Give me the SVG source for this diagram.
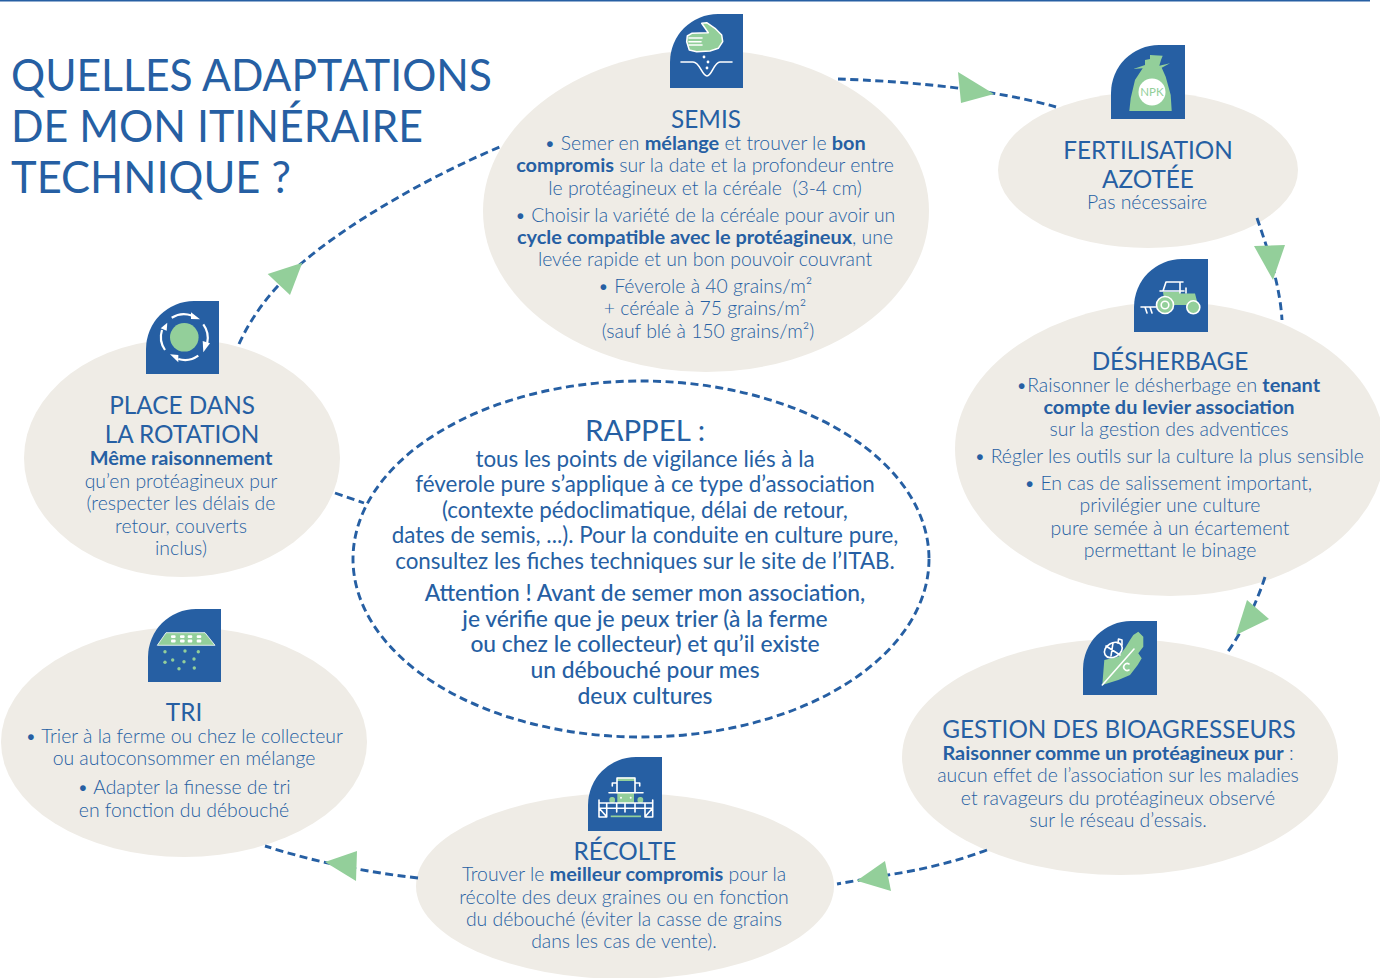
<svg xmlns="http://www.w3.org/2000/svg" width="1380" height="978" viewBox="0 0 1380 978">
<style>
.bg{fill:#efece6}
.tile{fill:#265fa3}
.g{fill:#93cf9a}
.w{fill:#fff}
.ws{fill:none;stroke:#fff;stroke-width:1.6;stroke-linecap:round;stroke-linejoin:round}
.dash{fill:none;stroke:#265fa3;stroke-width:2.9;stroke-dasharray:8 4.5}
.t{font-family:"Lato","Liberation Sans",sans-serif;text-anchor:middle;fill:#265fa3}
.tt{font-family:"Lato","Liberation Sans",sans-serif;fill:#265fa3;font-size:45px}
.b{font-size:19.4px;font-weight:300}
.h{font-size:24.3px;font-weight:400}
.s{font-weight:700;font-size:19.9px}
</style>
<rect width="1380" height="978" fill="#fff"/>
<rect x="0" y="0" width="1370" height="1.5" fill="#265fa3"/>
<g id="title">
<text class="tt" x="11" y="91" textLength="481" lengthAdjust="spacingAndGlyphs">QUELLES ADAPTATIONS</text>
<text class="tt" x="11" y="142" textLength="412" lengthAdjust="spacingAndGlyphs">DE MON ITINÉRAIRE</text>
<text class="tt" x="11" y="193" textLength="280" lengthAdjust="spacingAndGlyphs">TECHNIQUE ?</text>
</g>
<g id="semis">
<ellipse class="bg" cx="706" cy="211" rx="223" ry="161"/>
<path class="tile" d="M670 88V62A48 48 0 0 1 718 14H743V88Z"/>
<path class="g" d="M701.700 23.300L706.700 22.700L715 28.300L721.700 35L722.700 41.700L718.300 48.300L710 51L696.700 51.700L689.300 50L686.700 41.700L687.300 36L691.700 33.300L708.300 32.700Z" stroke="#fff" stroke-width="1.5" stroke-linejoin="round"/>
<path class="ws" d="M689 38H702M689 41.700H701M689 45H702"/>
<path class="ws" d="M681 62H693C700 62 702 76 707 76C712 76 714 62 720 62H732"/>
<circle class="w" cx="704" cy="57" r="1.4"/><circle class="w" cx="708" cy="62" r="1.4"/><circle class="w" cx="707" cy="68" r="1.4"/>
<text class="t h" x="706" y="128">SEMIS</text>
<text class="t b"><tspan x="705" y="150">• Semer en <tspan class="s">mélange</tspan> et trouver le <tspan class="s">bon</tspan></tspan><tspan x="705" y="172"><tspan class="s">compromis</tspan> sur la date et la profondeur entre</tspan><tspan x="705" y="195">le protéagineux et la céréale &#160;(3-4 cm)</tspan><tspan x="705" y="222">• Choisir la variété de la céréale pour avoir un</tspan><tspan x="705" y="244"><tspan class="s">cycle compatible avec le protéagineux</tspan>, une</tspan><tspan x="705" y="266">levée rapide et un bon pouvoir couvrant</tspan><tspan x="705" y="293">• Féverole à 40 grains/m²</tspan><tspan x="705" y="315">+ céréale à 75 grains/m²</tspan><tspan x="708" y="338">(sauf blé à 150 grains/m²)</tspan></text>
</g>
<g id="fertilisation">
<ellipse class="bg" cx="1148" cy="170" rx="150" ry="78"/>
<path class="tile" d="M1111 119V93A48 48 0 0 1 1159 45H1185V119Z"/>
<path class="g" d="M1150 55L1162.700 55.700L1161 60L1159.300 65.700L1170 63.300L1161.700 67.700L1165.700 76.700L1170.700 95L1171.700 111H1129.300L1130.700 98.300L1135 80L1142.700 68.300L1133.300 69L1145 65V60L1150 59Z"/>
<circle class="w" cx="1152" cy="92" r="13.500"/>
<text class="t" x="1152" y="96" font-size="11.500" style="fill:#93cf9a;font-weight:400">NPK</text>
<text class="t h" x="1148" y="158.500">FERTILISATION</text>
<text class="t h" x="1148" y="187.500">AZOTÉE</text>
<text class="t b" x="1147" y="209">Pas nécessaire</text>
</g>
<g id="desherbage">
<ellipse class="bg" cx="1170" cy="449" rx="215" ry="147"/>
<path class="tile" d="M1134 332V307A48 48 0 0 1 1182 259H1208V332Z"/>
<path class="g" d="M1163 292H1180V293.500H1195L1198 305H1172V306H1165Z"/>
<path class="ws" d="M1141 307H1156M1145 307L1147 313M1150 307L1152 313M1160 291H1184M1163 291L1166 282H1183M1180 282V293M1186 293V288"/>
<circle class="g" cx="1165" cy="305" r="8.500" stroke="#fff" stroke-width="1.600"/>
<circle class="g" cx="1165" cy="305" r="3.800" stroke="#fff" stroke-width="1.600"/>
<circle class="g" cx="1193.300" cy="307.300" r="6.500" stroke="#fff" stroke-width="1.600"/>
<text class="t h" x="1170" y="369.500">DÉSHERBAGE</text>
<text class="t b"><tspan x="1168" y="392">•Raisonner le désherbage en <tspan class="s">tenant</tspan></tspan><tspan x="1169" y="414"><tspan class="s">compte du levier association</tspan></tspan><tspan x="1169" y="436">sur la gestion des adventices</tspan><tspan x="1169" y="463">• Régler les outils sur la culture la plus sensible</tspan><tspan x="1168" y="490">• En cas de salissement important,</tspan><tspan x="1170" y="512">privilégier une culture</tspan><tspan x="1170" y="535">pure semée à un écartement</tspan><tspan x="1170" y="557">permettant le binage</tspan></text>
</g>
<g id="gestion">
<ellipse class="bg" cx="1120" cy="757" rx="218" ry="118"/>
<path class="tile" d="M1083 695V669A48 48 0 0 1 1131 621H1157V695Z"/>
<path class="g" d="M1138.300 631.700L1143.300 636.700V646.700L1138.300 653.300L1141.700 658.300L1137.700 665L1130 675L1118.300 680L1102.300 685L1104.300 660L1118.300 656.700L1125 648.300L1130 640L1133.300 635Z"/>
<path class="ws" d="M1102.300 685L1134 649"/>
<ellipse cx="1113.300" cy="650" rx="9.500" ry="7" fill="#265fa3" stroke="#fff" stroke-width="1.600" transform="rotate(-30 1113.300 650)"/>
<path class="ws" d="M1106 646L1120 655M1113 643L1111 656M1118 643L1118.500 639L1122 640L1122 645"/>
<path class="ws" d="M1129 664A3.500 3.500 0 1 0 1129 670"/>
<text class="t h" x="1119" y="737.500">GESTION DES BIOAGRESSEURS</text>
<text class="t b"><tspan x="1118" y="760"><tspan class="s">Raisonner comme un protéagineux pur</tspan> :</tspan><tspan x="1118" y="782">aucun effet de l’association sur les maladies</tspan><tspan x="1118" y="805">et ravageurs du protéagineux observé</tspan><tspan x="1118" y="827">sur le réseau d’essais.</tspan></text>
</g>
<g id="recolte">
<ellipse class="bg" cx="625" cy="886" rx="209" ry="93"/>
<path class="tile" d="M588 831V805A48 48 0 0 1 636 757H662V831Z"/>
<rect class="g" x="617" y="777.500" width="18" height="3.500"/>
<rect class="g" x="617.300" y="792.700" width="16.700" height="10.500"/>
<rect class="g" x="610.700" y="815.500" width="30.300" height="1.700"/>
<rect class="g" x="609.300" y="797" width="5.700" height="6" rx="2.500"/>
<rect class="g" x="637.500" y="797" width="5.700" height="6" rx="2.500"/>
<circle class="w" cx="621" cy="797.700" r="1"/><circle class="w" cx="630.700" cy="797.700" r="1"/>
<path class="ws" d="M617 793V778H635V793M612.300 786V783H617M639.700 786V783H635M609 792.700H643M599 800V817H606.700V803M652.700 800V817H645V803M599 803H652.700M599 808.300H652.700M616.700 803V812M625 803V812M635 803V812M599 808L606 816M652.700 808L645.700 816"/>
<text class="t h" x="625" y="859.500">RÉCOLTE</text>
<text class="t b"><tspan x="624" y="881">Trouver le <tspan class="s">meilleur compromis</tspan> pour la</tspan><tspan x="624" y="904">récolte des deux graines ou en fonction</tspan><tspan x="624" y="926">du débouché (éviter la casse de grains</tspan><tspan x="624" y="948">dans les cas de vente).</tspan></text>
</g>
<g id="tri">
<ellipse class="bg" cx="184" cy="742" rx="183" ry="115"/>
<path class="tile" d="M148 682V657A48 48 0 0 1 196 609H221V682Z"/>
<path class="g" d="M157.300 645.300L166 632.700H205L215 645.300Z" stroke="#fff" stroke-width="0.800"/>
<g class="w"><rect x="171" y="635.300" width="4.600" height="2.800" rx="1"/><rect x="180" y="635.300" width="4.600" height="2.800" rx="1"/><rect x="187.700" y="635.300" width="4.600" height="2.800" rx="1"/><rect x="196.700" y="635.300" width="4.600" height="2.800" rx="1"/><rect x="171" y="639.600" width="4.600" height="2.800" rx="1"/><rect x="180" y="639.600" width="4.600" height="2.800" rx="1"/><rect x="187.700" y="639.600" width="4.600" height="2.800" rx="1"/><rect x="196.700" y="639.600" width="4.600" height="2.800" rx="1"/></g>
<g class="g"><circle cx="165" cy="651.700" r="1.700"/><circle cx="185" cy="651" r="1.700"/><circle cx="198.300" cy="651.700" r="1.700"/><circle cx="165" cy="662.300" r="1.700"/><circle cx="172.700" cy="660" r="1.700"/><circle cx="184" cy="661.700" r="1.700"/><circle cx="194" cy="659" r="1.700"/><circle cx="179" cy="668.700" r="1.700"/><circle cx="194.300" cy="668" r="1.700"/></g>
<text class="t h" x="184" y="720.500">TRI</text>
<text class="t b"><tspan x="184" y="743">• Trier à la ferme ou chez le collecteur</tspan><tspan x="184" y="765">ou autoconsommer en mélange</tspan><tspan x="184" y="794">• Adapter la finesse de tri</tspan><tspan x="184" y="817">en fonction du débouché</tspan></text>
</g>
<g id="rotation">
<ellipse class="bg" cx="182" cy="458" rx="158" ry="119"/>
<path class="tile" d="M146 374V349A48 48 0 0 1 194 301H219V374Z"/>
<circle class="g" cx="184.300" cy="337.300" r="14.300"/>
<g fill="none" stroke="#fff" stroke-width="2.200"><path d="M171.700 317.700A23 23 0 0 1 191.700 315.500"/><path d="M203.300 324.300A23 23 0 0 1 207.200 343"/><path d="M198.300 355.700A23 23 0 0 1 178.300 359"/><path d="M165 350A23 23 0 0 1 162 330"/></g>
<g class="w"><polygon points="200,319.300 191,312.300 191,319"/><polygon points="203.300,352.300 210,343.300 202.700,341"/><polygon points="170,354.300 178.300,355 178.300,362.300"/><polygon points="167.300,322.700 160.700,328.300 166.700,330.700"/></g>
<text class="t h" x="182" y="413.500">PLACE DANS</text>
<text class="t h" x="182" y="442.500">LA ROTATION</text>
<text class="t b"><tspan class="s" x="181" y="465">Même raisonnement</tspan><tspan x="181" y="488">qu’en protéagineux pur</tspan><tspan x="181" y="510">(respecter les délais de</tspan><tspan x="181" y="533">retour, couverts</tspan><tspan x="181" y="555">inclus)</tspan></text>
</g>
<g id="rappel">
<ellipse cx="641" cy="559" rx="288" ry="178" fill="#fff" stroke="#265fa3" stroke-width="2.900" stroke-dasharray="8 4.500"/>
<text class="t" x="645" y="441" font-size="29.500">RAPPEL :</text>
<text class="t" font-size="22.400" font-weight="400"><tspan x="645" y="467">tous les points de vigilance liés à la</tspan><tspan x="645" y="492">féverole pure s’applique à ce type d’association</tspan><tspan x="645" y="518">(contexte pédoclimatique, délai de retour,</tspan><tspan x="645" y="543">dates de semis, ...). Pour la conduite en culture pure,</tspan><tspan x="645" y="569">consultez les fiches techniques sur le site de l’ITAB.</tspan></text>
<text class="t" font-size="22.800" font-weight="500"><tspan x="645" y="601">Attention ! Avant de semer mon association,</tspan><tspan x="645" y="627">je vérifie que je peux trier (à la ferme</tspan><tspan x="645" y="652">ou chez le collecteur) et qu’il existe</tspan><tspan x="645" y="678">un débouché pour mes</tspan><tspan x="645" y="704">deux cultures</tspan></text>
</g>
<g id="connectors">
<path class="dash" d="M838 79C900 81 990 88 1056 107"/>
<path class="dash" d="M1257 218C1268 250 1280 285 1282 320"/>
<path class="dash" d="M1265 577C1256 605 1243 630 1227 653"/>
<path class="dash" d="M987 850C955 862 920 870 888 875L837 884"/>
<path class="dash" d="M418 878C365 872 315 862 265 846"/>
<path class="dash" d="M335 493L364 503"/>
<path class="dash" d="M239 344C252 315 275 285 303 262C350 222 430 176 502 146"/>
<polygon class="g" points="994,94 958,72 961,103"/>
<polygon class="g" points="1273,280 1254,246 1285,245"/>
<polygon class="g" points="1236,635 1247,600 1269,619"/>
<polygon class="g" points="856.700,880.700 885,861 891,891"/>
<polygon class="g" points="325,862 357,851 356,881"/>
<polygon class="g" points="302.300,262.700 267.700,274 290,295"/>
</g>
</svg>
